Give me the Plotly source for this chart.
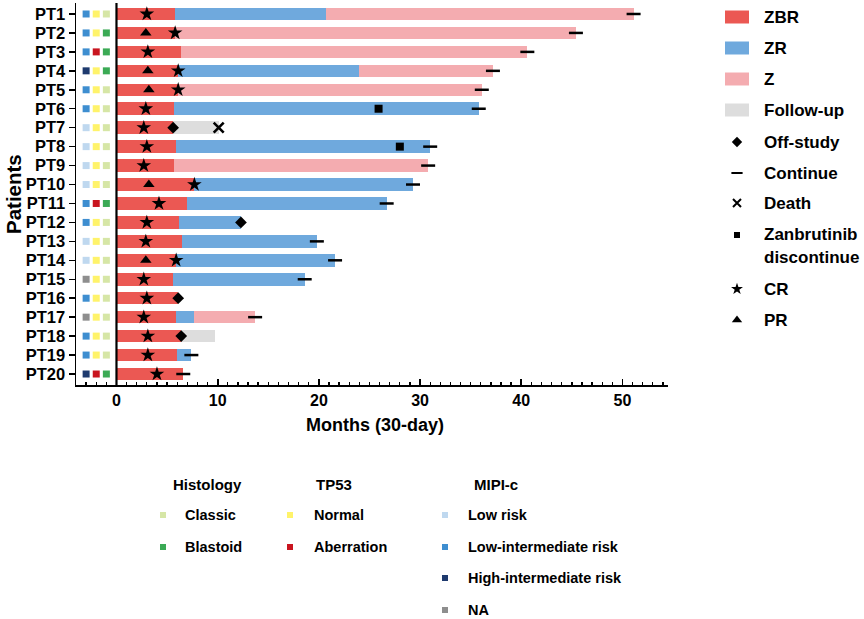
import plotly.graph_objects as go

# ---------------- data ----------------
patients = [f"PT{i}" for i in range(1, 21)]

# end of each treatment segment (months); None = segment absent
zbr_end = [5.8, 5.8, 6.4, 6.1, 6.1, 5.7, 5.6, 5.9, 5.7, 7.7,
           7.0, 6.2, 6.5, 5.9, 5.6, 6.1, 5.9, 6.4, 6.0, 6.6]
zr_end = [20.7, None, None, 24.0, None, 35.8, None, 31.0, None, 29.3,
          26.7, 12.3, 19.8, 21.6, 18.6, None, 7.7, None, 7.4, None]
z_end = [51.1, 45.4, 40.6, 37.2, 36.1, None, None, None, 30.8, None,
         None, None, None, None, None, None, 13.7, None, None, None]
fu_end = [None, None, None, None, None, None, 10.1, None, None, None,
          None, None, None, None, None, None, None, 9.7, None, None]

cr_time = [3.0, 5.8, 3.1, 6.1, 6.1, 2.9, 2.7, 3.0, 2.7, 7.7,
           4.2, 3.0, 2.9, 5.9, 2.7, 3.0, 2.7, 3.1, 3.1, 4.0]
pr_patients = ["PT2", "PT4", "PT5", "PT10", "PT14"]
pr_time = [2.9, 3.1, 3.2, 3.2, 2.9]
offstudy_patients = ["PT7", "PT12", "PT16", "PT18"]
offstudy_time = [5.6, 12.3, 6.1, 6.4]
death_patients = ["PT7"]
death_time = [10.1]
disc_patients = ["PT6", "PT8"]
disc_time = [25.9, 28.0]
continue_patients = ["PT1", "PT2", "PT3", "PT4", "PT5", "PT6", "PT8", "PT9", "PT10",
                     "PT11", "PT13", "PT14", "PT15", "PT17", "PT19", "PT20"]
continue_time = [51.1, 45.4, 40.6, 37.2, 36.1, 35.8, 31.0, 30.8, 29.3,
                 26.7, 19.8, 21.6, 18.6, 13.7, 7.4, 6.6]

mipi = ["LI", "LI", "LI", "HI", "LI", "LI", "L", "L", "L", "L",
        "LI", "LI", "L", "L", "NA", "LI", "NA", "LI", "LI", "HI"]
tp53 = ["N", "N", "A", "N", "N", "N", "N", "N", "N", "N",
        "A", "N", "N", "N", "N", "N", "N", "N", "N", "A"]
histology = ["C", "B", "B", "B", "C", "C", "C", "C", "C", "C",
             "B", "C", "C", "C", "C", "C", "C", "C", "C", "B"]

xtick_vals = [0, 10, 20, 30, 40, 50]

# ---------------- styles ----------------
C_ZBR = "#EB5853"
C_ZR = "#6FA9DD"
C_Z = "#F4ACB0"
C_FU = "#DDDDDD"
mipi_col = {"L": "#BFD8EF", "LI": "#3E8ED0", "HI": "#1E3A6E", "NA": "#8E8E8E"}
tp53_col = {"N": "#FFF36A", "A": "#C9151F"}
hist_col = {"C": "#D6E6A6", "B": "#3BAA55"}

FONT = "Liberation Sans"
W, H = 864, 619
PL, PR_, PT_, PB = 76, 668, 3, 385  # plot area in pixels

fig = go.Figure()

# ---------------- bars ----------------
def add_seg(names, bases, lens, color):
    fig.add_trace(go.Bar(y=names, x=lens, base=bases, orientation="h",
                         marker=dict(color=color, line=dict(width=0)),
                         width=0.66, showlegend=False, xaxis="x", yaxis="y"))

add_seg(patients, [0] * 20, zbr_end, C_ZBR)

n, b, l = [], [], []
for p, s, e in zip(patients, zbr_end, zr_end):
    if e is not None:
        n.append(p); b.append(s); l.append(e - s)
add_seg(n, b, l, C_ZR)

n, b, l = [], [], []
for p, s1, s2, e in zip(patients, zbr_end, zr_end, z_end):
    if e is not None:
        s = s2 if s2 is not None else s1
        n.append(p); b.append(s); l.append(e - s)
add_seg(n, b, l, C_Z)

n, b, l = [], [], []
for p, s1, s2, s3, e in zip(patients, zbr_end, zr_end, z_end, fu_end):
    if e is not None:
        s = max(v for v in (s1, s2, s3) if v is not None)
        n.append(p); b.append(s); l.append(e - s)
add_seg(n, b, l, C_FU)

# ---------------- event markers ----------------
def add_mk(names, xs, symbol, size, lw=0):
    fig.add_trace(go.Scatter(y=names, x=xs, mode="markers", showlegend=False,
                             marker=dict(symbol=symbol, size=size, color="black",
                                         line=dict(width=lw, color="black")),
                             cliponaxis=False, xaxis="x", yaxis="y"))

add_mk(patients, cr_time, "star", 11)
add_mk(pr_patients, pr_time, "triangle-up", 10)
add_mk(offstudy_patients, offstudy_time, "diamond", 9)
add_mk(death_patients, death_time, "x-thin", 10, 2.6)
add_mk(disc_patients, disc_time, "square", 8)
add_mk(continue_patients, continue_time, "line-ew", 10, 2.5)

# ---------------- annotation squares left of zero ----------------
fig.add_trace(go.Scatter(y=patients, x=[-3] * 20, mode="markers", showlegend=False,
                         marker=dict(symbol="square", size=7, color=[mipi_col[v] for v in mipi]),
                         xaxis="x", yaxis="y"))
fig.add_trace(go.Scatter(y=patients, x=[-2] * 20, mode="markers", showlegend=False,
                         marker=dict(symbol="square", size=7, color=[tp53_col[v] for v in tp53]),
                         xaxis="x", yaxis="y"))
fig.add_trace(go.Scatter(y=patients, x=[-1] * 20, mode="markers", showlegend=False,
                         marker=dict(symbol="square", size=7, color=[hist_col[v] for v in histology]),
                         xaxis="x", yaxis="y"))

# ---------------- legends (pixel overlay axes x2/y2) ----------------
ann = []
shapes = []

def txt(x, y, s, size=17, xanchor="left"):
    ann.append(dict(x=x, y=y, xref="x2", yref="y2", text=s, showarrow=False,
                    xanchor=xanchor, yanchor="middle", align="left",
                    font=dict(family=FONT, size=size, color="black", weight=700)))

# right legend: bar swatches
for yy, col, lab in [(17, C_ZBR, "ZBR"), (48, C_ZR, "ZR"), (79, C_Z, "Z"), (110, C_FU, "Follow-up")]:
    shapes.append(dict(type="rect", xref="x2", yref="y2", x0=725, x1=749,
                       y0=yy - 6.5, y1=yy + 6.5, fillcolor=col, line=dict(width=0)))
    txt(762, yy, lab)

leg_mk = [(142, "diamond", 8, 0, "Off-study"),
          (173, "line-ew", 8, 2, "Continue"),
          (203, "x-thin", 8, 2, "Death"),
          (235, "square", 6, 0, None),
          (289, "star", 9, 0, "CR"),
          (320, "triangle-up", 9, 0, "PR")]
for yy, sym, sz, lw, lab in leg_mk:
    fig.add_trace(go.Scatter(x=[737], y=[yy], mode="markers", showlegend=False,
                             marker=dict(symbol=sym, size=sz, color="black",
                                         line=dict(width=lw, color="black")),
                             xaxis="x2", yaxis="y2", cliponaxis=False))
    if lab:
        txt(762, yy, lab)
txt(762, 234, "Zanbrutinib")
txt(762, 257, "discontinue")

# bottom legend
txt(171, 484, "Histology", 15)
txt(314, 484, "TP53", 15)
txt(472, 484, "MIPI-c", 15)
bottom = [(163, 515, hist_col["C"], 183, "Classic"),
          (163, 547, hist_col["B"], 183, "Blastoid"),
          (290, 515, tp53_col["N"], 312, "Normal"),
          (290, 547, tp53_col["A"], 312, "Aberration"),
          (445, 515, mipi_col["L"], 466, "Low risk"),
          (445, 547, mipi_col["LI"], 466, "Low-intermediate risk"),
          (445, 578, mipi_col["HI"], 466, "High-intermediate risk"),
          (445, 610, mipi_col["NA"], 466, "NA")]
fig.add_trace(go.Scatter(x=[v[0] for v in bottom], y=[v[1] for v in bottom], mode="markers",
                         showlegend=False, marker=dict(symbol="square", size=6,
                                                        color=[v[2] for v in bottom]),
                         xaxis="x2", yaxis="y2", cliponaxis=False))
for v in bottom:
    txt(v[3], v[1], v[4], 14.5)

# axis titles
txt(375, 425, "Months (30-day)", 18, xanchor="center")
ann.append(dict(x=13, y=194, xref="x2", yref="y2", text="Patients", showarrow=False,
                textangle=-90, xanchor="center", yanchor="middle",
                font=dict(family=FONT, size=20.5, color="black", weight=700)))

# zero line
shapes.append(dict(type="line", xref="x", yref="y domain", x0=0, x1=0, y0=0, y1=1,
                   line=dict(color="black", width=2.2)))

fig.update_layout(
    width=W, height=H,
    margin=dict(l=0, r=0, t=0, b=0),
    paper_bgcolor="white", plot_bgcolor="rgba(0,0,0,0)",
    barmode="overlay", bargap=0,
    font=dict(family=FONT, color="black"),
    showlegend=False, hovermode=False,
    annotations=ann, shapes=shapes,
    xaxis=dict(domain=[PL / W, PR_ / W], range=[-4, 54.5], anchor="y",
               tickvals=xtick_vals, ticks="inside", ticklen=6, tickwidth=1.8,
               tickcolor="black", showline=True, linecolor="black", linewidth=2,
               showgrid=False, zeroline=False,
               tickfont=dict(family=FONT, size=16, color="black", weight=700),
               minor=dict(dtick=1, tick0=0, ticks="inside", ticklen=3.5,
                          tickwidth=1.3, tickcolor="black", showgrid=False)),
    yaxis=dict(domain=[1 - PB / H, 1 - PT_ / H], anchor="x",
               type="category", categoryorder="array", categoryarray=patients,
               tickmode="array", tickvals=patients, ticktext=patients,
               range=[19.58, -0.58], ticks="outside", ticklen=6, tickwidth=1.5,
               tickcolor="black", showline=True, linecolor="black", linewidth=1.5,
               showgrid=False, zeroline=False,
               tickfont=dict(family=FONT, size=16.5, color="black", weight=700)),
    xaxis2=dict(domain=[0, 1], range=[0, W], anchor="y2", visible=False, fixedrange=True),
    yaxis2=dict(domain=[0, 1], range=[H, 0], anchor="x2", visible=False, fixedrange=True),
)

fig.write_html("out.html", config={"displayModeBar": False, "staticPlot": True},
               post_script="document.body.style.margin='0px';document.body.style.padding='0px';")
